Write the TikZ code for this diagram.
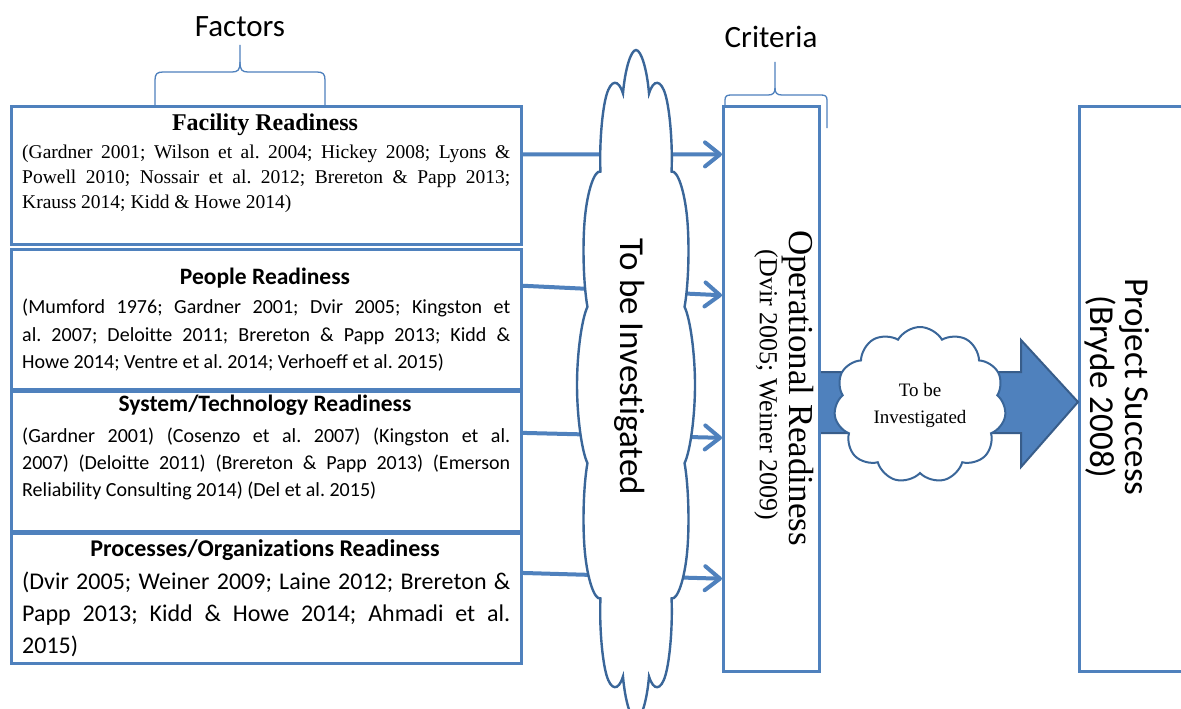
\documentclass[tikz,border=0pt]{standalone}
\usepackage{fontspec}
\setmainfont{Liberation Serif}
\newfontfamily\calfont[Ligatures=NoCommon]{Carlito}
\usetikzlibrary{shapes.symbols,arrows.meta,calc}
\definecolor{lineblue}{HTML}{4F81BD}
\definecolor{cloudblue}{HTML}{3A6699}
\definecolor{arrowedge}{HTML}{385D8A}
\frenchspacing
\begin{document}
\begin{tikzpicture}[x=1pt,y=-1pt,
  box/.style={draw=lineblue, line width=3pt, fill=white, rectangle, inner sep=0pt, anchor=north west},
  cite/.style={anchor=north west, inner sep=0pt, text width=488pt, align=justify},
  ttl/.style={anchor=base, inner sep=0pt},
  flow/.style={draw=lineblue, line width=4pt, line cap=round,
    -{Straight Barb[length=15pt,width=24pt,round]}},
  bracket/.style={draw=lineblue, line width=1.3pt},
  puff/.style={cloud, draw=cloudblue, fill=white, cloud ignores aspect, inner sep=0pt},
  blockarrow/.style={fill=lineblue, draw=arrowedge, line width=2pt, line join=miter}]
\clip (0,0) rectangle (1181,709);
\fill[white] (0,0) rectangle (1181,709);

% column headings and their braces
\node[font=\calfont\fontsize{31}{31}\selectfont] (factors) at (240,27) {Factors};
\node[font=\calfont\fontsize{31}{31}\selectfont] (criteria) at (771,37) {Criteria};
\draw[bracket] (155,105) -- (155,80) .. controls (155,74) and (157,72) .. (163,72) -- (232,72)
  .. controls (238,72) and (240,70) .. (240,62) -- (240,45);
\draw[bracket] (325,105) -- (325,80) .. controls (325,74) and (323,72) .. (317,72) -- (248,72)
  .. controls (242,72) and (240,70) .. (240,62);
\draw[bracket] (725,105) -- (725,100) .. controls (725,96) and (727,95) .. (731,95) -- (768,95)
  .. controls (773,95) and (775,93) .. (775,88) -- (775,62);
\draw[bracket] (827,128) -- (827,100) .. controls (827,96) and (825,95) .. (821,95) -- (782,95)
  .. controls (777,95) and (775,93) .. (775,88);

% factor boxes
\node[box, minimum width=510pt, minimum height=138pt] (fac) at (10,105) {};
\node[box, minimum width=510pt, minimum height=140pt] (ppl) at (10,248) {};
\node[box, minimum width=510pt, minimum height=140pt] (sys) at (10,390) {};
\node[box, minimum width=510pt, minimum height=130pt] (prc) at (10,532) {};

\node[ttl, font=\bfseries\fontsize{24}{24}\selectfont] (facttl) at (265,130) {Facility Readiness};
\node[cite, font=\fontsize{19.5}{25}\selectfont] (factxt) at (22,145)
  {(Gardner 2001; Wilson et al. 2004; Hickey 2008; Lyons \&\linebreak
   Powell 2010; Nossair et al. 2012; Brereton \& Papp 2013;\linebreak
   Krauss 2014; Kidd \& Howe 2014)};

\node[ttl, font=\calfont\bfseries\fontsize{23.5}{23.5}\selectfont] (pplttl) at (265,284) {People Readiness};
\node[cite, font=\calfont\fontsize{20}{27.5}\selectfont] (ppltxt) at (22,299)
  {(Mumford 1976; Gardner 2001; Dvir 2005; Kingston et\linebreak
   al. 2007; Deloitte 2011; Brereton \& Papp 2013; Kidd \&\linebreak
   Howe 2014; Ventre et al. 2014; Verhoeff et al. 2015)};

\node[ttl, font=\calfont\bfseries\fontsize{23.5}{23.5}\selectfont] (systtl) at (265,411) {System/Technology Readiness};
\node[cite, font=\calfont\fontsize{20}{27}\selectfont] (systxt) at (22,428)
  {(Gardner 2001) (Cosenzo et al. 2007) (Kingston et al.\linebreak
   2007) (Deloitte 2011) (Brereton \& Papp 2013) (Emerson\linebreak
   Reliability Consulting 2014) (Del et al. 2015)};

\node[ttl, font=\calfont\bfseries\fontsize{24}{24}\selectfont] (prcttl) at (265,556) {Processes/Organizations Readiness};
\node[cite, font=\calfont\fontsize{24}{32}\selectfont] (prctxt) at (22,572)
  {(Dvir 2005; Weiner 2009; Laine 2012; Brereton \&\linebreak
   Papp 2013; Kidd \& Howe 2014; Ahmadi et al.\linebreak
   2015)};

% criterion and outcome boxes
\node[box, minimum width=96pt, minimum height=565pt] (oper) at (722,105) {};
\node[box, minimum width=130pt, minimum height=565pt] (ps) at (1078,105) {};
\node[rotate=-90, inner sep=0pt, font=\fontsize{35}{35}\selectfont] (operttl) at (798,388) {Operational Readiness};
\node[rotate=-90, inner sep=0pt, font=\fontsize{26}{26}\selectfont] (opercite) at (766,385) {(Dvir 2005; Weiner 2009)};
\node[rotate=-90, inner sep=0pt, align=center, font=\calfont\fontsize{35}{35}\selectfont] (pstxt) at (1117,387)
  {Project Success\\(Bryde 2008)};

% factor arrows into the criterion
\draw[flow] ($(fac.north east)!0.35!(fac.south east)$) -- ($(oper.north west)!0.087!(oper.south west)$);
\draw[flow] ($(ppl.north east)!0.264!(ppl.south east)$) -- ($(oper.north west)!0.335!(oper.south west)$);
\draw[flow] ($(sys.north east)!0.3!(sys.south east)$) -- ($(oper.north west)!0.586!(oper.south west)$);
\draw[flow] ($(prc.north east)!0.308!(prc.south east)$) -- ($(oper.north west)!0.834!(oper.south west)$);

% tall cloud over the arrows
\begin{scope}[shift={(636,385)}, yscale=5]
  \node[puff, cloud puffs=12, cloud puff arc=135, line width=2.4pt,
        minimum width=118pt, minimum height=134pt, transform shape] (bigcloud) at (0,0) {};
\end{scope}
\node[rotate=-90, inner sep=0pt, font=\calfont\fontsize{35}{35}\selectfont] (bigtxt) at (630,367) {To be Investigated};

% block arrow from criterion to outcome
\coordinate (axis) at (0,402);
\draw[blockarrow] ($(oper.east|-axis)+(0,-30)$) -- ($(ps.west|-axis)+(-57,-30)$)
  -- ($(ps.west|-axis)+(-57,-62)$) -- (ps.west|-axis) -- ($(ps.west|-axis)+(-57,65)$)
  -- ($(ps.west|-axis)+(-57,31)$) -- ($(oper.east|-axis)+(0,31)$);

\node[puff, cloud puffs=11, cloud puff arc=120, line width=2pt, minimum width=172pt, minimum height=156pt,
      align=center, font=\fontsize{19}{27}\selectfont] (smallcloud) at (920,405) {To be\\Investigated};
\end{tikzpicture}
\end{document}
